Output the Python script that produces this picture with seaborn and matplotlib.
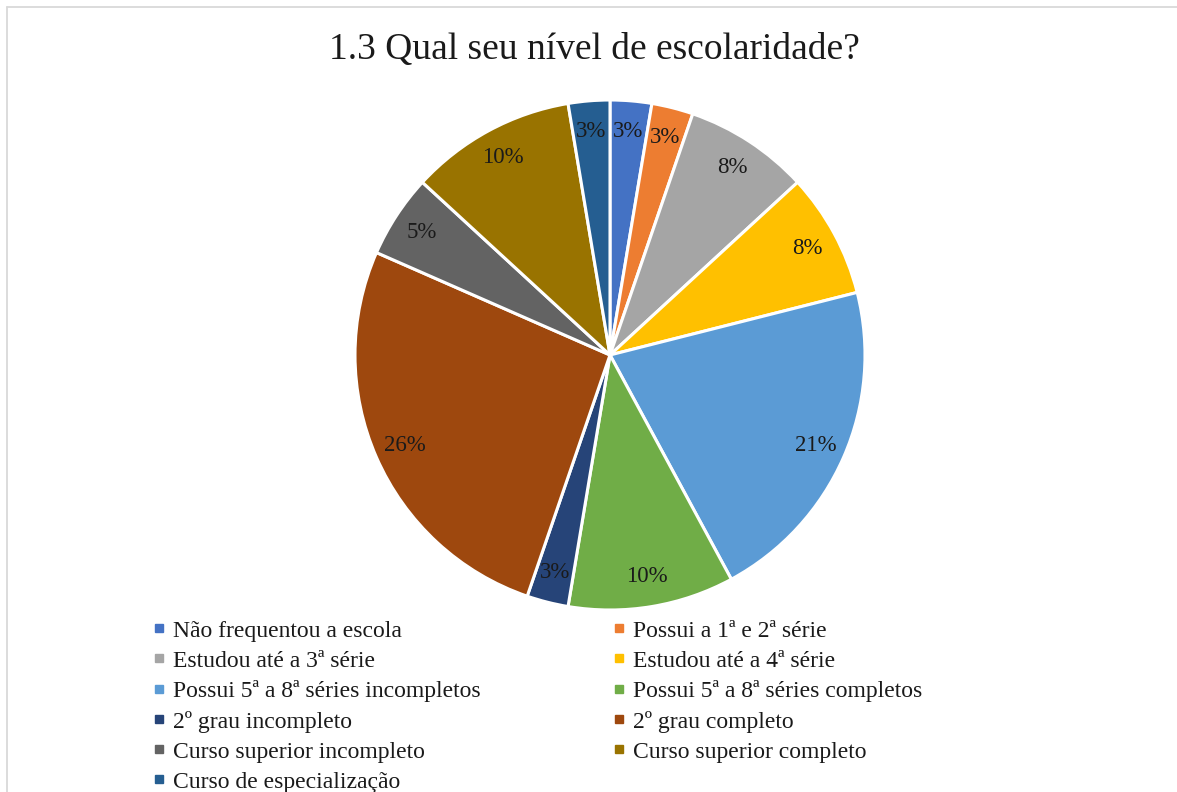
import matplotlib
matplotlib.use("Agg")
import matplotlib.pyplot as plt
from matplotlib.lines import Line2D
import seaborn as sns

categories = [
    "Não frequentou a escola",
    "Possui a 1ª e 2ª série",
    "Estudou até a 3ª série",
    "Estudou até a 4ª série",
    "Possui 5ª a 8ª séries incompletos",
    "Possui 5ª a 8ª séries completos",
    "2º grau incompleto",
    "2º grau completo",
    "Curso superior incompleto",
    "Curso superior completo",
    "Curso de especialização",
]
counts = [1, 1, 3, 3, 8, 4, 1, 10, 2, 4, 1]
pct_labels = ["3%", "3%", "8%", "8%", "21%", "10%", "3%", "26%", "5%", "10%", "3%"]
colors = ["#4472C4", "#ED7D31", "#A5A5A5", "#FFC000", "#5B9BD5", "#70AD47",
          "#264478", "#9E480E", "#636363", "#997300", "#255E91"]
title = "1.3 Qual seu nível de escolaridade?"

sns.set_theme(style="white")
plt.rcParams["font.family"] = ["Liberation Serif", "DejaVu Serif"]

W, H = 1177, 792
fig = plt.figure(figsize=(W / 100, H / 100), dpi=100)
fig.patch.set_facecolor("white")

cx, cy, r = 610, 355, 255
ax = fig.add_axes([(cx - r) / W, (H - cy - r) / H, 2 * r / W, 2 * r / H])

wedges, texts = ax.pie(
    counts, colors=colors, labels=pct_labels, labeldistance=0.88,
    startangle=90, counterclock=False,
    wedgeprops=dict(edgecolor="white", linewidth=2.2),
    textprops=dict(fontsize=16.5, color="#1a1a1a"),
)
for t in texts:
    t.set_ha("center")
    t.set_va("center")
ax.set_xlim(-1, 1)
ax.set_ylim(-1, 1)
ax.set_aspect("equal")

fig.text(594 / W, 1 - 50 / H, title, ha="center", va="center",
         fontsize=27, color="#1a1a1a")

order = [0, 2, 4, 6, 8, 10, 1, 3, 5, 7, 9]
handles = [Line2D([0], [0], marker="s", linestyle="none", markersize=5.5,
                  markerfacecolor=colors[i], markeredgecolor=colors[i]) for i in order]
labels = [categories[i] for i in order]
fig.legend(handles, labels, ncol=2, loc="upper left",
           bbox_to_anchor=(153 / W, 1 - 620 / H), frameon=False,
           fontsize=17, handlelength=0.55, handletextpad=0.3,
           labelspacing=0.36, columnspacing=5.6, borderpad=0, borderaxespad=0,
           labelcolor="#1a1a1a")

border = "#D9D9D9"
fig.add_artist(Line2D([7 / W, 1], [1 - 6.5 / H, 1 - 6.5 / H], color=border, lw=1.3,
                      transform=fig.transFigure))
fig.add_artist(Line2D([7 / W, 7 / W], [0, 1 - 6.5 / H], color=border, lw=1.3,
                      transform=fig.transFigure))

fig.savefig("out.png", dpi=100, facecolor="white")
